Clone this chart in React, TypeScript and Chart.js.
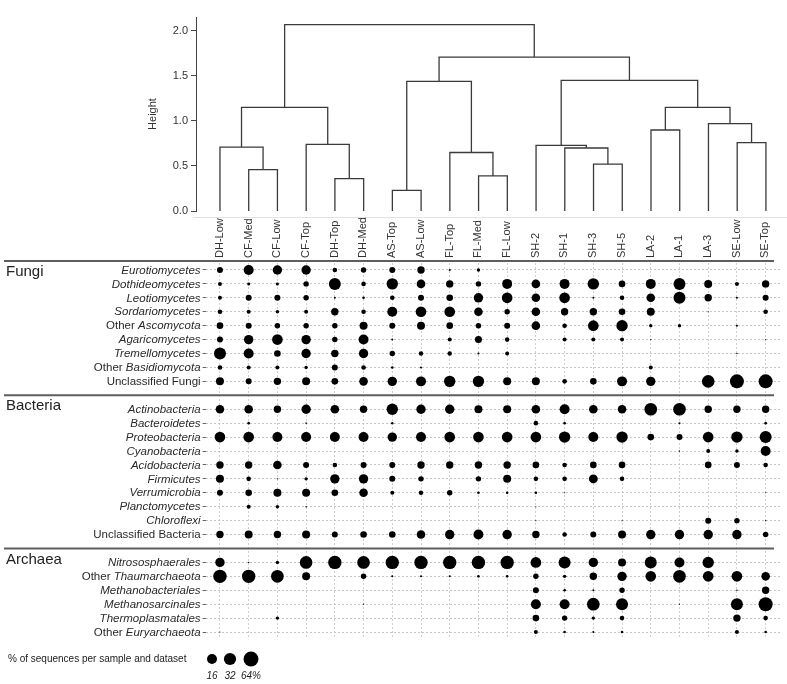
import React, { useEffect, useRef } from "react";
import { Chart, registerables } from "chart.js";

Chart.register(...registerables);

const FONT = '"Liberation Sans", Arial, Helvetica, sans-serif';

// ---------- data ----------
const samples = [
  "DH-Low", "CF-Med", "CF-Low", "CF-Top", "DH-Top", "DH-Med", "AS-Top", "AS-Low",
  "FL-Top", "FL-Med", "FL-Low", "SH-2", "SH-1", "SH-3", "SH-5", "LA-2", "LA-1",
  "LA-3", "SE-Low", "SE-Top",
];

// dendrogram: a node is [left, right, merge height]; a leaf is a sample index
type TreeNode = number | [TreeNode, TreeNode, number];
const dendrogram: TreeNode = [
  [[0, [1, 2, 0.46], 0.71], [3, [4, 5, 0.36], 0.74], 1.15],
  [
    [[6, 7, 0.23], [8, [9, 10, 0.39], 0.65], 1.44],
    [
      [11, [12, [13, 14, 0.52], 0.7], 0.73],
      [[15, 16, 0.9], [17, [18, 19, 0.76], 0.97], 1.15],
      1.45,
    ],
    1.71,
  ],
  2.07,
];
const heightMax = 2.155;
const heightStep = 0.5;

// row labels: *...* = italic
const fungiRows = [
  "*Eurotiomycetes*", "*Dothideomycetes*", "*Leotiomycetes*", "*Sordariomycetes*",
  "Other *Ascomycota*", "*Agaricomycetes*", "*Tremellomycetes*", "Other *Basidiomycota*",
  "Unclassified Fungi",
];
const fungiValues = [
  [2.8, 16, 13, 13, 1.1, 2, 2.8, 5.8, 0.07, 0.4, 0, 0, 0, 0, 0, 0, 0, 0, 0, 0],
  [0.7, 0.26, 0.26, 2, 30, 1.1, 25, 9.6, 5.8, 2, 16, 9.6, 16, 25, 3.9, 16, 30, 7.5, 0.7, 5.8],
  [0.7, 2.8, 2.8, 2, 0.07, 0.16, 1.1, 2.8, 3.9, 13, 20, 9.6, 20, 0.07, 1.1, 9.6, 30, 5.8, 0.07, 2.8],
  [1.1, 0.7, 0.4, 0.7, 5.8, 1.1, 16, 20, 20, 9.6, 2, 9.6, 5.8, 5.8, 3.9, 7.5, 0, 0.01, 0, 1.1],
  [3.9, 2.8, 2, 2, 2, 7.5, 2.8, 7.5, 3.9, 2, 2.8, 9.6, 1.1, 20, 25, 0.4, 0.4, 0, 0.07, 0],
  [2.8, 13, 20, 13, 2, 16, 0.07, 0, 0.7, 4.8, 1.1, 0, 0.7, 0.7, 0.7, 0.02, 0, 0, 0, 0.01],
  [30, 16, 3.9, 13, 5.8, 13, 2, 1, 1, 0.07, 0.7, 0, 0, 0, 0, 0, 0, 0, 0.02, 0],
  [1.1, 0.7, 0.7, 0.4, 2.8, 1.1, 0.16, 0.07, 0, 0, 0, 0, 0, 0, 0, 0.7, 0, 0, 0, 0],
  [7.5, 2.8, 5.8, 7.5, 3.9, 9.6, 13, 16, 25, 25, 7.5, 7.5, 1.1, 3.9, 16, 13, 0, 36, 51, 51],
];

const bacteriaRows = [
  "*Actinobacteria*", "*Bacteroidetes*", "*Proteobacteria*", "*Cyanobacteria*",
  "*Acidobacteria*", "*Firmicutes*", "*Verrumicrobia*", "*Planctomycetes*", "*Chloroflexi*",
  "Unclassified Bacteria",
];
const bacteriaValues = [
  [9.6, 9.6, 5.8, 13, 9.6, 5.8, 25, 13, 13, 7.5, 7.5, 9.6, 16, 9.6, 9.6, 36, 36, 5.8, 5.8, 5.8],
  [0, 0.16, 0, 0.03, 0, 0, 0.12, 0, 0, 0, 0, 1.1, 0.16, 0, 0, 0, 0.07, 0, 0, 0.16],
  [20, 20, 16, 16, 16, 16, 13, 16, 20, 20, 20, 20, 25, 16, 25, 3.9, 2.8, 20, 25, 30],
  [0, 0, 0, 0, 0, 0, 0, 0, 0, 0, 0, 0, 0, 0, 0, 0, 0.02, 0.7, 0.4, 16],
  [5.8, 5.8, 9.6, 2.8, 1.1, 2.8, 2.8, 5.8, 5.8, 5.8, 5.8, 3.9, 1.1, 3.9, 3.9, 0, 0, 3.9, 2.8, 1.1],
  [7.5, 1.1, 0.02, 0.4, 13, 13, 2.8, 2, 0, 2, 7.5, 1.1, 1.1, 11, 1.1, 0, 0, 0, 0, 0],
  [2.8, 3.9, 7.5, 7.5, 3.9, 9.6, 0.7, 1.1, 2, 0.16, 0.16, 0.16, 0.01, 0, 0, 0, 0, 0, 0, 0.01],
  [0, 0.7, 0.4, 0.03, 0, 0, 0, 0, 0, 0, 0, 0.01, 0, 0, 0, 0, 0, 0, 0, 0],
  [0, 0, 0, 0, 0, 0, 0, 0, 0, 0, 0, 0.01, 0, 0, 0.01, 0, 0, 2.8, 2, 0.02],
  [5.8, 7.5, 5.8, 7.5, 2.8, 3.9, 3.9, 9.6, 13, 16, 13, 5.8, 1.1, 2.8, 7.5, 13, 13, 13, 13, 2],
];

const archaeaRows = [
  "*Nitrososphaerales*", "Other *Thaumarchaeota*", "*Methanobacteriales*",
  "*Methanosarcinales*", "*Thermoplasmatales*", "Other *Euryarchaeota*",
];
const archaeaValues = [
  [13, 0.02, 0.4, 36, 44, 36, 44, 44, 44, 44, 44, 20, 30, 13, 7.5, 30, 16, 25, 0, 0],
  [44, 44, 36, 7.5, 0, 2, 0.07, 0.07, 0.07, 0.16, 0.16, 2, 0.4, 5.8, 13, 20, 36, 20, 20, 9.6],
  [0, 0, 0, 0, 0, 0, 0, 0, 0, 0, 0, 2.8, 0.16, 0.07, 2, 0, 0, 0, 0.03, 5.8],
  [0, 0, 0, 0, 0, 0.01, 0, 0, 0, 0, 0, 16, 16, 36, 30, 0, 0.01, 0, 30, 51],
  [0, 0, 0.4, 0, 0, 0, 0, 0, 0, 0, 0, 3.9, 2, 0.4, 1.1, 0, 0, 0, 5.8, 1.1],
  [0.01, 0, 0, 0, 0, 0, 0, 0, 0, 0, 0, 0.7, 0.16, 0.07, 0.16, 0, 0, 0, 0.7, 0.16],
];

const groupNames = ["Fungi", "Bacteria", "Archaea"];
const legendTitle = "% of sequences per sample and dataset";
const legendValues = [16, 32, 64];
const legendLabels = ["16", "32", "64%"];

// ---------- helpers ----------
const radiusOf = (v: number) => 2.22 * Math.pow(v, 0.292);

function parseLabel(s: string) {
  const parts: { text: string; italic: boolean }[] = [];
  const re = /\*([^*]+)\*|([^*]+)/g;
  let m: RegExpExecArray | null;
  while ((m = re.exec(s))) {
    if (m[1]) parts.push({ text: m[1], italic: true });
    else parts.push({ text: m[2], italic: false });
  }
  return parts;
}

function buildSegments(node: TreeNode, segs: { x: number; y: number }[][]): { x: number; h: number } {
  if (typeof node === "number") return { x: node, h: 0 };
  const [l, r, h] = node;
  const a = buildSegments(l, segs);
  const b = buildSegments(r, segs);
  segs.push([
    { x: a.x, y: a.h },
    { x: a.x, y: h },
    { x: b.x, y: h },
    { x: b.x, y: b.h },
  ]);
  return { x: (a.x + b.x) / 2, h };
}

const groups = [
  { name: groupNames[0], rows: fungiRows, values: fungiValues },
  { name: groupNames[1], rows: bacteriaRows, values: bacteriaValues },
  { name: groupNames[2], rows: archaeaRows, values: archaeaValues },
];

const rowKeys: string[] = [];
const gapIndex: number[] = [];
groups.forEach((g, gi) => {
  if (gi > 0) {
    gapIndex.push(rowKeys.length);
    rowKeys.push("#gap" + gi);
  }
  g.rows.forEach((r) => rowKeys.push(r));
});
const isGap = (i: number) => rowKeys[i] !== undefined && rowKeys[i].startsWith("#gap");

// layout constants
const W = 787;
const H = 684;
const PLOT_LEFT = 205.6;
const PLOT_RIGHT = 780.3;
const DEND_AXIS_X = 196;
const DEND_TOP = 17;
const DEND_BOTTOM = 211;
const MATRIX_TOP = 263;
const MATRIX_BOTTOM = 639;

export default function App() {
  const dendRef = useRef<HTMLCanvasElement | null>(null);
  const matRef = useRef<HTMLCanvasElement | null>(null);

  useEffect(() => {
    const segs: { x: number; y: number }[][] = [];
    buildSegments(dendrogram, segs);
    const colW = (PLOT_RIGHT - PLOT_LEFT) / samples.length;
    const xMinDend = -0.5 - (PLOT_LEFT - DEND_AXIS_X) / colW;
    const xMaxDend = samples.length - 0.5;

    const dendFrame = {
      id: "dendFrame",
      beforeDraw(chart: any) {
        const { ctx } = chart;
        ctx.save();
        ctx.strokeStyle = "#e2e2e2";
        ctx.lineWidth = 1;
        ctx.beginPath();
        ctx.moveTo(193, 217.5);
        ctx.lineTo(W, 217.5);
        ctx.stroke();
        ctx.restore();
      },
    };

    const dend = new Chart(dendRef.current as HTMLCanvasElement, {
      type: "scatter",
      data: {
        datasets: segs.map((pts) => ({
          data: pts,
          showLine: true,
          borderColor: "#3a3a3a",
          borderWidth: 1.3,
          pointRadius: 0,
          fill: false,
          tension: 0,
        })),
      },
      options: {
        animation: false,
        responsive: false,
        events: [],
        layout: { padding: { left: 142, right: W - PLOT_RIGHT, top: DEND_TOP, bottom: H - DEND_BOTTOM } },
        plugins: { legend: { display: false }, tooltip: { enabled: false } },
        scales: {
          x: { type: "linear", display: false, min: xMinDend, max: xMaxDend },
          y: {
            type: "linear",
            min: 0,
            max: heightMax,
            afterFit: (s: any) => {
              s.width = DEND_AXIS_X - 142;
            },
            ticks: {
              stepSize: heightStep,
              includeBounds: false,
              callback: (v: any) => Number(v).toFixed(1),
              font: { family: FONT, size: 11 },
              color: "#333",
              padding: 3,
            },
            grid: { drawOnChartArea: false, tickLength: 5, tickColor: "#444" },
            border: { color: "#444", width: 1 },
            title: {
              display: true,
              text: "Height",
              font: { family: FONT, size: 11 },
              color: "#333",
              padding: 4,
            },
          },
        },
      },
      plugins: [dendFrame],
    } as any);

    const datasets: any[] = [];
    groups.forEach((g) => {
      g.rows.forEach((row, ri) => {
        const data = g.values[ri]
          .map((v, c) => (v > 0 ? { x: samples[c], y: row, r: radiusOf(v) } : null))
          .filter((d) => d !== null);
        datasets.push({ label: row, data, backgroundColor: "#000", borderWidth: 0 });
      });
    });

    const decor = {
      id: "matrixDecor",
      afterDatasetsDraw(chart: any) {
        const { ctx, chartArea, scales } = chart;
        const ys = scales.y;
        ctx.save();
        const sepYs = [chartArea.top - 2, ...gapIndex.map((i) => ys.getPixelForValue(i))];
        ctx.strokeStyle = "#5e5e5e";
        ctx.lineWidth = 2;
        sepYs.forEach((y) => {
          ctx.beginPath();
          ctx.moveTo(4, y);
          ctx.lineTo(chartArea.right - 6, y);
          ctx.stroke();
        });
        // group names
        ctx.fillStyle = "#222";
        ctx.textBaseline = "middle";
        ctx.textAlign = "left";
        ctx.font = `15px ${FONT}`;
        groups.forEach((g, gi) => ctx.fillText(g.name, 6, sepYs[gi] + 11));
        // row labels
        const rightX = chartArea.left - 5;
        rowKeys.forEach((key, i) => {
          if (isGap(i)) return;
          const y = ys.getPixelForValue(i);
          const parts = parseLabel(key);
          let total = 0;
          const widths = parts.map((p) => {
            ctx.font = `${p.italic ? "italic " : ""}11.5px ${FONT}`;
            const w = ctx.measureText(p.text).width;
            total += w;
            return w;
          });
          let x = rightX - total;
          ctx.fillStyle = "#2a2a2a";
          parts.forEach((p, pi) => {
            ctx.font = `${p.italic ? "italic " : ""}11.5px ${FONT}`;
            ctx.fillText(p.text, x, y + 0.5);
            x += widths[pi];
          });
        });
        // legend
        const ly = 659;
        ctx.font = `10px ${FONT}`;
        ctx.fillStyle = "#222";
        ctx.fillText(legendTitle, 8, ly);
        const lx = [212, 230, 251];
        legendValues.forEach((v, i) => {
          ctx.beginPath();
          ctx.arc(lx[i], ly, radiusOf(v), 0, Math.PI * 2);
          ctx.fillStyle = "#000";
          ctx.fill();
          ctx.font = `italic 10px ${FONT}`;
          ctx.textAlign = "center";
          ctx.fillStyle = "#222";
          ctx.fillText(legendLabels[i], lx[i], 676);
          ctx.textAlign = "left";
        });
        ctx.restore();
      },
    };

    const mat = new Chart(matRef.current as HTMLCanvasElement, {
      type: "bubble",
      data: { datasets },
      options: {
        animation: false,
        responsive: false,
        events: [],
        layout: { padding: { left: 0, right: W - PLOT_RIGHT, top: 0, bottom: H - MATRIX_BOTTOM } },
        plugins: { legend: { display: false }, tooltip: { enabled: false } },
        scales: {
          x: {
            type: "category",
            labels: samples,
            position: "top",
            offset: true,
            afterFit: (s: any) => {
              s.height = MATRIX_TOP;
            },
            grid: { offset: false, color: "#cfcfcf", lineWidth: 1, drawTicks: false },
            border: { display: false, dash: [2, 2] },
            ticks: {
              autoSkip: false,
              minRotation: 90,
              maxRotation: 90,
              padding: 5,
              labelOffset: 13,
              font: { family: FONT, size: 11 },
              color: "#333",
            },
          },
          y: {
            type: "category",
            labels: rowKeys,
            offset: true,
            afterFit: (s: any) => {
              s.width = PLOT_LEFT;
            },
            grid: {
              offset: false,
              lineWidth: 1,
              color: (c: any) => (isGap(c.index) ? "rgba(0,0,0,0)" : "#c6c6c6"),
              tickColor: (c: any) => (isGap(c.index) ? "rgba(0,0,0,0)" : "#666"),
              tickLength: 3,
              drawTicks: true,
            },
            border: { display: false, dash: [2, 2] },
            ticks: { display: false },
          },
        },
      },
      plugins: [decor],
    } as any);

    return () => {
      dend.destroy();
      mat.destroy();
    };
  }, []);

  return (
    <div style={{ position: "fixed", left: 0, top: 0, width: W, height: H, background: "#fff" }}>
      <canvas ref={dendRef} width={W} height={H} style={{ position: "absolute", left: 0, top: 0, width: W, height: H }} />
      <canvas ref={matRef} width={W} height={H} style={{ position: "absolute", left: 0, top: 0, width: W, height: H }} />
    </div>
  );
}
